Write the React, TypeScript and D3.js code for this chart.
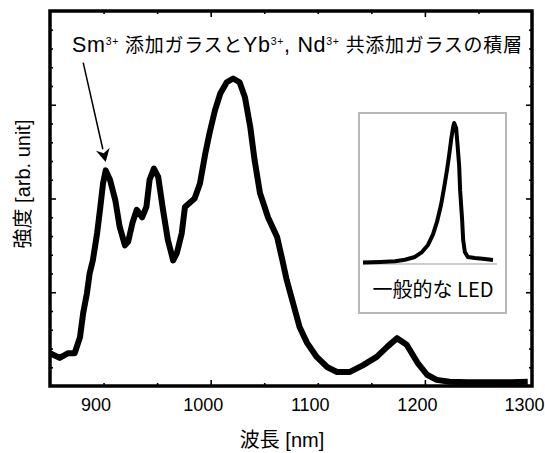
import React, { useEffect, useRef } from "react";
import * as d3 from "d3";

// main spectrum
const WAVELENGTH = [850, 859, 867, 873, 878, 881, 884.5, 887, 890, 894, 897, 899.5, 902, 906, 911, 915, 920, 923, 927, 931, 936, 940, 943, 947, 951, 955.5, 960, 965, 968.5, 973, 976, 981, 985, 990, 995, 999, 1004, 1009, 1015, 1021, 1027, 1032, 1037, 1041, 1046, 1053.5, 1062, 1067, 1071, 1077, 1083, 1090, 1099, 1109, 1118, 1130, 1142, 1155, 1165, 1174, 1183, 1193, 1202, 1211, 1223, 1240, 1260, 1280, 1296];
const INTENSITY = [0.35, 0.3, 0.35, 0.35, 0.52, 0.78, 0.99, 1.2, 1.34, 1.63, 1.91, 2.16, 2.3, 2.2, 1.98, 1.7, 1.5, 1.54, 1.74, 1.88, 1.8, 1.91, 2.2, 2.32, 2.23, 1.88, 1.56, 1.34, 1.42, 1.63, 1.91, 1.96, 2.0, 2.16, 2.48, 2.7, 2.94, 3.12, 3.24, 3.28, 3.24, 3.08, 2.76, 2.41, 2.06, 1.8, 1.59, 1.34, 1.13, 0.88, 0.63, 0.46, 0.31, 0.2, 0.15, 0.15, 0.22, 0.31, 0.42, 0.51, 0.44, 0.25, 0.12, 0.065, 0.045, 0.04, 0.04, 0.04, 0.045];

// inset: typical LED
const LED_X = [380, 431, 476, 505, 535, 556, 574, 589, 601, 613, 622, 631, 637, 643, 649, 652, 658, 661, 667, 670, 676, 679, 684, 693, 714, 744, 768];
const LED_Y = [0.01, 0.015, 0.02, 0.03, 0.05, 0.085, 0.135, 0.21, 0.3, 0.42, 0.54, 0.67, 0.77, 0.88, 0.97, 1.0, 0.965, 0.88, 0.7, 0.52, 0.31, 0.17, 0.085, 0.05, 0.043, 0.035, 0.028];

const X_LABELS = [900, 1000, 1100, 1200, 1300];
const X_MAJOR = [1000, 1200];
const X_MINOR = [900, 950, 1050, 1100, 1150, 1250];
const Y_MAJOR = [1, 2, 3];

const ARROW_FROM = [881, 3.45];
const ARROW_TO = [902, 2.39];

const FONT = "'Liberation Sans', Arial, 'Noto Sans CJK JP', sans-serif";

export default function App() {
  const svgRef = useRef<SVGSVGElement>(null);

  useEffect(() => {
    const svg = d3.select(svgRef.current);
    svg.selectAll("*").remove();

    const x = d3.scaleLinear().domain([850, 1300]).range([50, 532]);
    const y = d3.scaleLinear().domain([0, 4]).range([386, 11]);
    const yMinor = d3.range(0.2, 4, 0.2).filter((v) => Math.abs(v - Math.round(v)) > 0.01);

    const ticks = (sel: any, axis: any, vals: number[], size: number) => {
      sel.call(axis.tickValues(vals).tickSize(size).tickFormat(() => ""));
      sel.select(".domain").remove();
      sel.selectAll("line").attr("stroke", "#000").attr("stroke-width", 1.6);
    };

    // ticks on all four sides, inward
    const b = svg.append("g").attr("transform", "translate(0,386)");
    ticks(b.append("g"), d3.axisBottom(x), X_MINOR, -3);
    ticks(b.append("g"), d3.axisBottom(x), X_MAJOR, -6);
    const t = svg.append("g").attr("transform", "translate(0,11)");
    ticks(t.append("g"), d3.axisTop(x), X_MINOR, -3);
    ticks(t.append("g"), d3.axisTop(x), X_MAJOR, -6);
    const l = svg.append("g").attr("transform", "translate(50,0)");
    ticks(l.append("g"), d3.axisLeft(y), yMinor, -3);
    ticks(l.append("g"), d3.axisLeft(y), Y_MAJOR, -6);
    const r = svg.append("g").attr("transform", "translate(532,0)");
    ticks(r.append("g"), d3.axisRight(y), yMinor, -3);
    ticks(r.append("g"), d3.axisRight(y), Y_MAJOR, -6);

    // x labels
    const lab = svg.append("g").attr("transform", "translate(0,386)")
      .call(d3.axisBottom(x).tickValues(X_LABELS).tickSize(0).tickPadding(12).tickFormat(d3.format("d")));
    lab.select(".domain").remove();
    lab.attr("font-family", FONT).attr("font-size", 18);
    lab.selectAll("text").attr("dx", -8).attr("fill", "#000");

    // frame
    svg.append("rect").attr("x", 50).attr("y", 11).attr("width", 482).attr("height", 375)
      .attr("fill", "none").attr("stroke", "#000").attr("stroke-width", 3.5);

    // main curve
    const line = d3.line<number>().x((_, i) => x(WAVELENGTH[i])).y((d) => y(d));
    svg.append("path").attr("d", line(INTENSITY)).attr("fill", "none")
      .attr("stroke", "#000").attr("stroke-width", 6).attr("stroke-linejoin", "round");

    // inset
    const lx = d3.scaleLinear().domain([380, 780]).range([363, 497]);
    const ly = d3.scaleLinear().domain([0, 1]).range([264, 123]);
    svg.append("rect").attr("x", 359).attr("y", 113).attr("width", 147).attr("height", 200)
      .attr("fill", "#fff").attr("stroke", "#b8b8b8").attr("stroke-width", 2);
    svg.append("line").attr("x1", lx(380)).attr("x2", lx(780)).attr("y1", ly(0)).attr("y2", ly(0))
      .attr("stroke", "#999").attr("stroke-width", 1);
    const ledLine = d3.line<number>().x((_, i) => lx(LED_X[i])).y((d) => ly(d));
    svg.append("path").attr("d", ledLine(LED_Y)).attr("fill", "none")
      .attr("stroke", "#000").attr("stroke-width", 4).attr("stroke-linejoin", "round");
    svg.append("text").attr("x", 433).attr("y", 297).attr("text-anchor", "middle")
      .attr("font-family", "'Noto Sans CJK JP', sans-serif").attr("font-size", 20)
      .text("一般的な LED");

    // annotation arrow
    const [x1, y1] = [x(ARROW_FROM[0]), y(ARROW_FROM[1])];
    const [x2, y2] = [x(ARROW_TO[0]), y(ARROW_TO[1])];
    const ang = Math.atan2(y2 - y1, x2 - x1);
    const hl = 13, hw = 7;
    const bx = x2 - hl * Math.cos(ang), by = y2 - hl * Math.sin(ang);
    svg.append("line").attr("x1", x1).attr("y1", y1).attr("x2", bx).attr("y2", by)
      .attr("stroke", "#000").attr("stroke-width", 1.5);
    svg.append("path")
      .attr("d", `M${x2},${y2} L${bx + hw * Math.sin(ang)},${by - hw * Math.cos(ang)} L${x2 - 9 * Math.cos(ang)},${y2 - 9 * Math.sin(ang)} L${bx - hw * Math.sin(ang)},${by + hw * Math.cos(ang)} Z`)
      .attr("fill", "#000");

    // annotation text
    const ann = svg.append("text").attr("x", 72).attr("y", 52)
      .attr("font-family", FONT).attr("fill", "#000")
      .attr("textLength", 450).attr("lengthAdjust", "spacing");
    const parts: [string, string][] = [
      ["Sm", "lat"], ["3+", "sup"], [" 添加ガラスと", "cjk"], ["Yb", "lat"], ["3+", "sup"],
      [", Nd", "lat"], ["3+", "sup"], [" 共添加ガラスの積層", "cjk"],
    ];
    let raised = false;
    parts.forEach(([s, kind]) => {
      const sup = kind === "sup";
      const dy = sup ? (raised ? 0 : -7) : raised ? 7 : 0;
      raised = sup;
      ann.append("tspan").attr("font-size", sup ? 10.5 : kind === "cjk" ? 19 : 21.5)
        .attr("dy", dy).text(s);
    });

    // axis titles
    svg.append("text").attr("x", 282).attr("y", 447).attr("text-anchor", "middle")
      .attr("font-family", FONT).attr("font-size", 20).text("波長 [nm]");
    svg.append("text").attr("transform", "translate(30,184) rotate(-90)").attr("text-anchor", "middle")
      .attr("font-family", FONT).attr("font-size", 20).text("強度 [arb. unit]");
  }, []);

  return (
    <svg ref={svgRef} width={545} height={453}
      style={{ position: "absolute", left: 0, top: 0, background: "#fff" }} />
  );
}
